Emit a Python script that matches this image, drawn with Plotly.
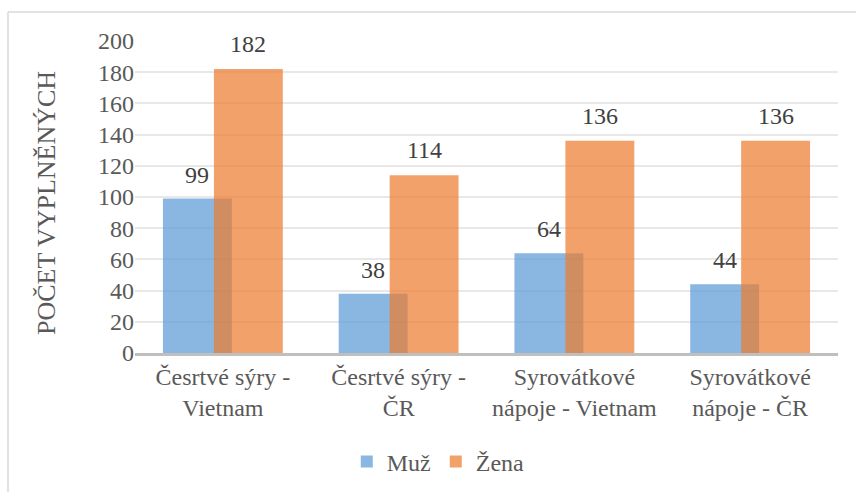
import plotly.graph_objects as go

categories = ["Česrtvé sýry -<br>Vietnam", "Česrtvé sýry -<br>ČR", "Syrovátkové<br>nápoje - Vietnam", "Syrovátkové<br>nápoje - ČR"]
muz = [99, 38, 64, 44]
zena = [182, 114, 136, 136]
y_ticks = [0, 20, 40, 60, 80, 100, 120, 140, 160, 180, 200]

L, R, T, B = 135, 18, 41, 139
W, H = 856, 492
pw, ph = W - L - R, H - T - B

def px(x):
    return (x - L) / pw

def py(y):
    return (H - B - y) / ph

ff = "Liberation Serif"
txt = "#595959"
lab = "#404040"

bar_w = 0.392
off_m = -0.341
off_z = -0.051

fig = go.Figure()
fig.add_trace(go.Bar(
    x=categories, y=muz, name="Muž",
    marker=dict(color="rgba(91,155,213,0.72)", line=dict(width=0)),
    width=bar_w, offset=off_m,
))
fig.add_trace(go.Bar(
    x=categories, y=zena, name="Žena",
    marker=dict(color="rgba(237,125,49,0.72)", line=dict(width=0)),
    width=bar_w, offset=off_z,
))

annotations = []
for i, v in enumerate(muz):
    annotations.append(dict(x=i + off_m + bar_w / 2, y=v, xref="x", yref="y", text=str(v),
                            showarrow=False, yanchor="middle", yshift=24,
                            font=dict(family=ff, size=24, color=lab)))
for i, v in enumerate(zena):
    annotations.append(dict(x=i + off_z + bar_w / 2, y=v, xref="x", yref="y", text=str(v),
                            showarrow=False, yanchor="middle", yshift=25,
                            font=dict(family=ff, size=24, color=lab)))
annotations.append(dict(x=px(47), y=py(203), xref="paper", yref="paper", text="POČET VYPLNĚNÝCH",
                        textangle=-90, showarrow=False, xanchor="center", yanchor="middle",
                        font=dict(family=ff, size=26, color=txt)))

fig.update_layout(
    width=W, height=H,
    margin=dict(l=L, r=R, t=T, b=B, autoexpand=False),
    paper_bgcolor="white", plot_bgcolor="white",
    barmode="overlay",
    font=dict(family=ff, size=24, color=txt),
    showlegend=True,
    legend=dict(orientation="h", x=0.512, xanchor="center",
                xref="container", yref="container",
                y=(H - 462) / H, yanchor="middle",
                font=dict(family=ff, size=24, color=txt),
                itemwidth=30, tracegroupgap=0, bgcolor="rgba(0,0,0,0)"),
    xaxis=dict(
        showgrid=False, showline=True, linecolor="#bfbfbf", linewidth=2.5,
        ticks="", automargin=False,
        tickfont=dict(family=ff, size=24, color=txt),
        range=[-0.5, 3.5],
    ),
    yaxis=dict(
        range=[0, 200], tickvals=y_ticks, showgrid=True, gridcolor="#e8e8e8", gridwidth=2,
        zeroline=False, showline=False, ticks="", automargin=False,
        tickfont=dict(family=ff, size=24, color=txt),
    ),
    annotations=annotations,
    shapes=[
        dict(type="line", xref="paper", yref="paper", x0=px(8), x1=px(856), y0=py(12), y1=py(12),
             line=dict(color="#d9d9d9", width=1.5)),
        dict(type="line", xref="paper", yref="paper", x0=px(8), x1=px(8), y0=py(12), y1=py(492),
             line=dict(color="#d9d9d9", width=1.5)),
    ],
)

fig.write_html("out.html", config={"displayModeBar": False},
               post_script="document.body.style.margin='0';")
